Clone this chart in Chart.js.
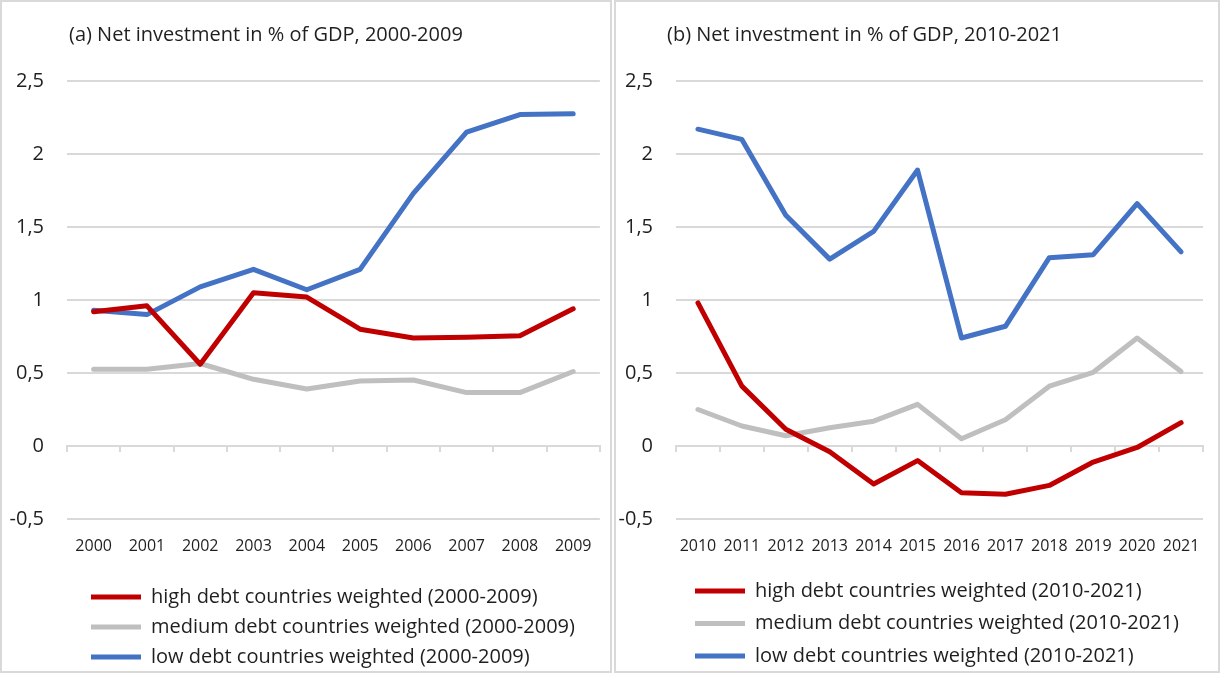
<!DOCTYPE html>
<html>
<head>
<meta charset="utf-8">
<script src="https://cdn.jsdelivr.net/npm/chart.js@4.4.0/dist/chart.umd.min.js"></script>
<style>
  body { margin: 0; background: #fff; }
  .panel { position: absolute; top: 0; height: 669px; border: 2px solid #d9d9d9; background: #fff; }
  #p1 { left: 0; width: 608px; }
  #p2 { left: 614px; width: 602px; }
  canvas { display: block; }
</style>
</head>
<body>
<div class="panel" id="p1"><canvas id="c1" width="608" height="669"></canvas></div>
<div class="panel" id="p2"><canvas id="c2" width="602" height="669"></canvas></div>
<script>
const years1 = ['2000', '2001', '2002', '2003', '2004', '2005', '2006', '2007', '2008', '2009'];
const high1 = [0.92, 0.96, 0.56, 1.05, 1.02, 0.80, 0.74, 0.745, 0.755, 0.94];
const medium1 = [0.525, 0.525, 0.565, 0.457, 0.39, 0.445, 0.452, 0.366, 0.366, 0.51];
const low1 = [0.93, 0.90, 1.09, 1.21, 1.07, 1.21, 1.73, 2.15, 2.27, 2.275];

const years2 = ['2010', '2011', '2012', '2013', '2014', '2015', '2016', '2017', '2018', '2019', '2020', '2021'];
const high2 = [0.98, 0.41, 0.115, -0.04, -0.26, -0.10, -0.32, -0.33, -0.27, -0.11, -0.01, 0.16];
const medium2 = [0.25, 0.137, 0.07, 0.125, 0.17, 0.285, 0.05, 0.18, 0.41, 0.505, 0.74, 0.51];
const low2 = [2.17, 2.10, 1.58, 1.28, 1.47, 1.89, 0.74, 0.82, 1.29, 1.31, 1.66, 1.33];

const yTicks = [-0.5, 0, 0.5, 1, 1.5, 2, 2.5];

const RED = '#c00000', GREY = '#bfbfbf', BLUE = '#4472c4';
const FONT = 'Open Sans';
const TXT = '#1f1f1f';

// nudge title / legend boxes after layout (excel-like placement)
const shiftBoxes = {
  id: 'shiftBoxes',
  afterLayout(chart, args, o) {
    const move = (box, dx, dy) => {
      if (!box) return;
      box.left += dx; box.right += dx;
      box.top += dy; box.bottom += dy;
    };
    move(chart.legend, o.legendDx || 0, o.legendDy || 0);
    move(chart.titleBlock, o.titleDx || 0, 0);
  },
};

function makeChart(id, title, years, period, high, medium, low, opts) {
  const ds = (label, data, color) => ({
    label: label + ' countries weighted (' + period + ')',
    data: data,
    borderColor: color,
    backgroundColor: color,
    borderWidth: 5,
    borderCapStyle: 'round',
    borderJoinStyle: 'round',
    pointRadius: 0,
    tension: 0,
  });
  return new Chart(document.getElementById(id), {
    type: 'line',
    data: {
      labels: years,
      datasets: [ds('high debt', high, RED), ds('medium debt', medium, GREY), ds('low debt', low, BLUE)],
    },
    plugins: [shiftBoxes],
    options: {
      responsive: false,
      animation: false,
      layout: { padding: { left: 0, right: opts.padRight, bottom: 0, top: 0 } },
      plugins: {
        tooltip: { enabled: false },
        shiftBoxes: { legendDx: opts.legendDx, legendDy: opts.legendDy, titleDx: opts.titleDx },
        title: {
          display: true,
          text: title,
          align: 'start',
          fullSize: false,
          color: TXT,
          font: { family: FONT, size: 20, weight: 'normal' },
          padding: { top: 21, bottom: 34 },
        },
        legend: {
          position: 'bottom',
          align: 'start',
          fullSize: false,
          labels: {
            color: TXT,
            font: { family: FONT, size: 20 },
            usePointStyle: true,
            pointStyle: 'line',
            pointStyleWidth: 50,
            boxWidth: 50,
            padding: opts.legendPad,
          },
        },
      },
      scales: {
        x: {
          offset: true,
          grid: { display: false, drawTicks: false },
          border: { display: false },
          afterFit: (axis) => { axis.height = opts.xHeight; },
          ticks: { color: TXT, font: { family: FONT, size: 16 }, autoSkip: false, maxRotation: 0, padding: 18 },
        },
        x2: {
          type: 'category',
          position: { y: 0 },
          offset: true,
          grid: { offset: true, drawOnChartArea: false, drawTicks: true, tickLength: 5, color: '#d9d9d9', lineWidth: 2 },
          border: { display: true, color: '#d9d9d9', width: 2 },
          ticks: { display: false },
        },
        y: {
          min: -0.5,
          max: 2.5,
          afterBuildTicks: (axis) => { axis.ticks = yTicks.map(v => ({ value: v })); },
          afterFit: (axis) => { axis.width = opts.yWidth; },
          grid: { color: '#d9d9d9', lineWidth: 2, drawTicks: false },
          border: { display: false },
          ticks: {
            color: TXT,
            font: { family: FONT, size: 20 },
            padding: 23,
            callback: (v) => String(v).replace('.', ','),
          },
        },
      },
    },
  });
}

makeChart('c1', '(a) Net investment in % of GDP, 2000-2009', years1, '2000-2009', high1, medium1, low1,
  { padRight: 9, yWidth: 65, xHeight: 52, legendPad: 10, legendDx: 14, legendDy: 6, titleDx: 2 });
makeChart('c2', '(b) Net investment in % of GDP, 2010-2021', years2, '2010-2021', high2, medium2, low2,
  { padRight: 14, yWidth: 60, xHeight: 44.5, legendPad: 12.5, legendDx: 6.5, legendDy: 5, titleDx: -9 });
</script>
</body>
</html>
